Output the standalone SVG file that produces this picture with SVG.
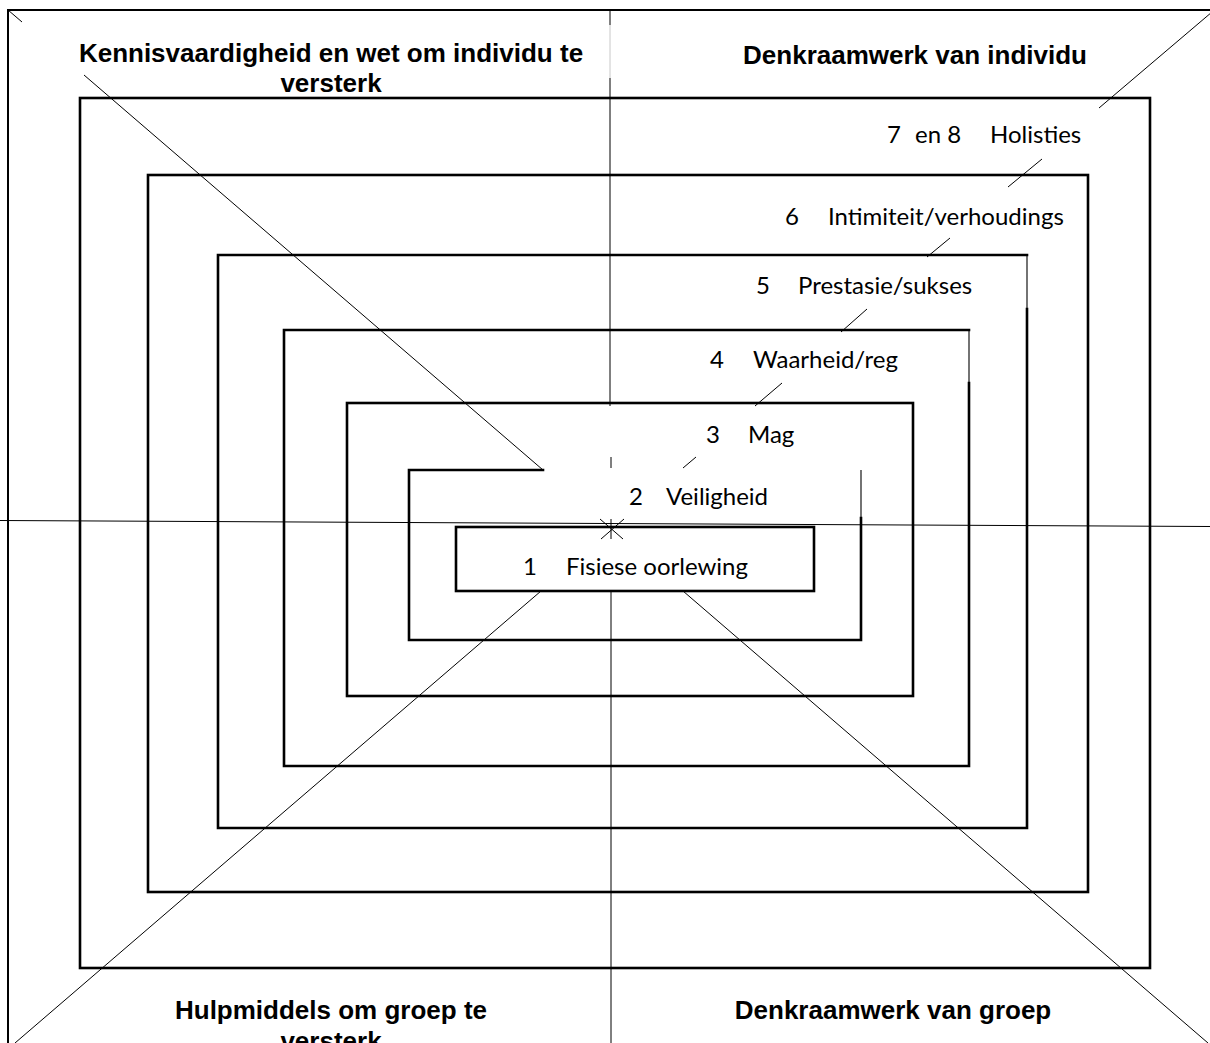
<svg xmlns="http://www.w3.org/2000/svg" width="1210" height="1043" viewBox="0 0 1210 1043">
<style>
.ring{fill:none;stroke:#000;stroke-width:2.6;stroke-linecap:square}
.edge{fill:none;stroke:#000;stroke-width:1.1}
.ax{fill:none;stroke:#000;stroke-width:1}
.faint{fill:none;stroke:#c8c8c8;stroke-width:1}
.frame{fill:none;stroke:#000;stroke-width:2}
.lbl{font-family:Lato,'Open Sans','Liberation Sans',sans-serif;font-size:24px;fill:#000}
.ttl{font-family:'Liberation Sans',Arial,sans-serif;font-weight:bold;font-size:26px;fill:#000}
</style>
<rect width="1210" height="1043" fill="#fff"/>
<path class="frame" d="M8,1043 V10 H1212"/>
<g id="connectors">
  <path class="ax" d="M0,520.5 L1210,526.5"/>
  <path class="ax" d="M610,10 V25 M610,78 V406 M611,457 V468 M611,519 V539 M611,591 V1043"/>
  <path class="faint" d="M610,25 V78"/>
  <path class="ax" d="M8,10 L22,22 M84,75 L543,470"/>
  <path class="ax" d="M600,519 L623,539 M624,519 L601,539"/>
  <path class="ax" d="M1212,12 L1099,108 M1042,159 L1008,187 M950,238 L927,257 M867,309 L841,332 M782,383 L755,406 M696,457 L683,468"/>
  <path class="ax" d="M541,591 L15,1043"/>
  <path class="ax" d="M683,591 L1208,1043"/>
</g>
<g id="titles">
  <text class="ttl" x="331" y="62" text-anchor="middle">Kennisvaardigheid en wet om individu te</text>
  <text class="ttl" x="331" y="92" text-anchor="middle">versterk</text>
  <text class="ttl" x="915" y="64" text-anchor="middle">Denkraamwerk van individu</text>
  <text class="ttl" x="331" y="1019" text-anchor="middle">Hulpmiddels om groep te</text>
  <text class="ttl" x="331" y="1050" text-anchor="middle">versterk</text>
  <text class="ttl" x="893" y="1019" text-anchor="middle">Denkraamwerk van groep</text>
</g>
<g id="level7">
  <rect class="ring" x="80" y="98" width="1070" height="870"/>
  <text class="lbl" y="143"><tspan x="887">7</tspan><tspan x="915">en 8</tspan><tspan x="990">Holisties</tspan></text>
</g>
<g id="level6">
  <rect class="ring" x="148" y="175" width="940" height="717"/>
  <text class="lbl" y="225"><tspan x="785">6</tspan><tspan x="828">Intimiteit/verhoudings</tspan></text>
</g>
<g id="level5">
  <path class="ring" d="M1027,309 V828 H218 V255 H1027"/>
  <path class="edge" d="M1027,255 V309"/>
  <text class="lbl" y="294"><tspan x="756">5</tspan><tspan x="798">Prestasie/sukses</tspan></text>
</g>
<g id="level4">
  <path class="ring" d="M969,383 V766 H284 V330 H969"/>
  <path class="edge" d="M969,330 V383"/>
  <text class="lbl" y="368"><tspan x="710">4</tspan><tspan x="753">Waarheid/reg</tspan></text>
</g>
<g id="level3">
  <rect class="ring" x="347" y="403" width="566" height="293"/>
  <text class="lbl" y="443"><tspan x="706">3</tspan><tspan x="748">Mag</tspan></text>
</g>
<g id="level2">
  <path class="ring" d="M543,470 H409 V640 H861 V518"/>
  <path class="edge" d="M861,470 V518"/>
  <text class="lbl" y="505"><tspan x="629">2</tspan><tspan x="666">Veiligheid</tspan></text>
</g>
<g id="level1">
  <rect class="ring" x="456" y="527" width="358" height="64"/>
  <text class="lbl" y="575"><tspan x="523">1</tspan><tspan x="566">Fisiese oorlewing</tspan></text>
</g>
</svg>
